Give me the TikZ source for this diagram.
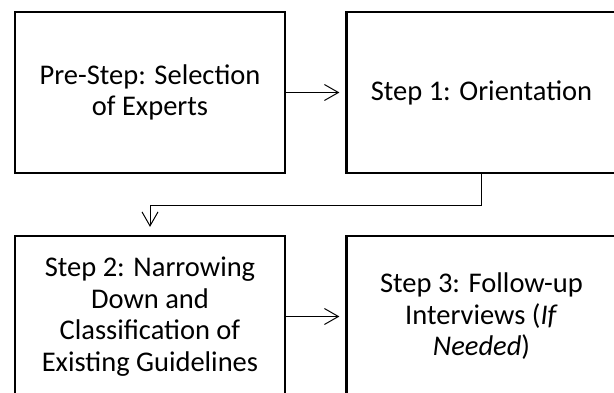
\documentclass[tikz,border=0pt]{standalone}
\usepackage{fontspec}
\setmainfont{Carlito}
\usetikzlibrary{arrows.meta}
\tikzset{
  stepbox/.style={draw=black, line width=2.2pt, minimum width=270pt, minimum height=161pt,
    inner sep=0pt, align=center, font=\fontsize{28.5}{31.5}\selectfont},
  link/.style={draw=black, line width=1pt, -{Straight Barb[length=14pt,width=16pt]}},
}
\begin{document}
\begin{tikzpicture}[x=1pt,y=-1pt]
\useasboundingbox (0,0) rectangle (614,393);
\clip (0,0) rectangle (614,393);
\node[stepbox] (pre) at (150,92.5) {Pre-Step: Selection\\of Experts};
\node[stepbox] (s1) at (481.5,92.5) {Step 1: Orientation};
\node[stepbox] (s2) at (150,316.5) {Step 2: Narrowing\\Down and\\Classification of\\Existing Guidelines};
\node[stepbox] (s3) at (481.5,316.5) {Step 3: Follow-up\\Interviews (\textit{If}\\\textit{Needed})};
\draw[link, shorten >=6pt] (pre.east) -- (s1.west);
\draw[link, shorten >=8pt] (s1.south) -- ++(0,31) -| (s2.north);
\draw[link, shorten >=6pt] (s2.east) -- (s3.west);
\end{tikzpicture}
\end{document}
